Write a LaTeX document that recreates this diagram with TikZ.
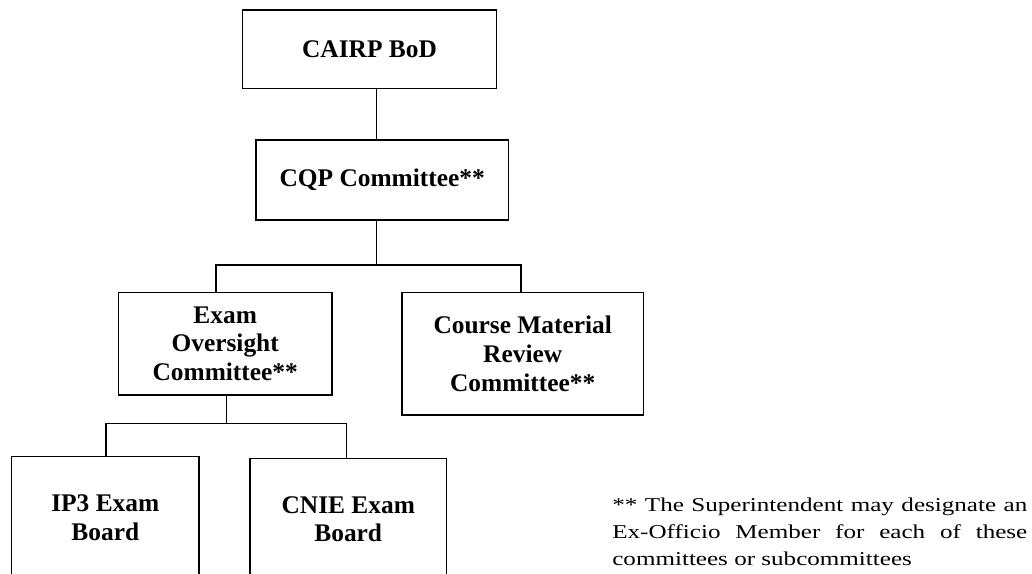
\documentclass[tikz,border=0pt]{standalone}
\usepackage{fontspec}
\setmainfont{Liberation Serif}
\newfontfamily\notefont[FakeStretch=1.28]{Liberation Serif}
\usepackage{tikz}
\tikzset{orgbox/.style={draw, line width=0.8pt, inner sep=2pt, align=center, font=\fontsize{14.45}{16.4}\selectfont\bfseries},
	notetext/.style={text width=8.3cm, align=justify, inner sep=0pt, font=\notefont\fontsize{11.15}{15.3}\selectfont}}

\begin{document}
\begin{tikzpicture}
			%%%%% START %%%%%
			
			\useasboundingbox (0, 0) rectangle (20.64, 11.46);
			\clip (0, 0) rectangle (20.64, 11.46);
			
			\node[orgbox, minimum width=5.088cm, minimum height=1.566cm] (bod) at (7.39, 10.476) {CAIRP BoD};
			\node[orgbox, minimum width=5.046cm, minimum height=1.6cm] (cqp) at (7.644, 7.86) {CQP Committee**};
			
			\node[orgbox, minimum width=4.274cm, minimum height=2.046cm] (exam) at (4.504, 4.584) {Exam\\Oversight\\Committee**};
			\node[orgbox, minimum width=4.826cm, minimum height=2.446cm] (course) at (10.454, 4.384) {Course Material\\Review\\Committee**};
			
			\node[orgbox, minimum width=3.746cm, minimum height=2.446cm] (ipe) at (2.106, 1.103) {IP3 Exam\\Board};
			\node[orgbox, minimum width=3.93cm, minimum height=2.434cm] (cnie) at (6.965, 1.077) {CNIE Exam\\Board};
			
			% bus points
			\coordinate (j1) at (7.534, 6.16);
			\coordinate (b1l) at (4.32, 6.16);
			\coordinate (b1r) at (10.42, 6.16);
			\coordinate (j2) at (4.534, 2.994);
			\coordinate (b2l) at (2.12, 2.994);
			\coordinate (b2r) at (6.934, 2.994);
			
			\draw[line width=0.8pt] (bod.south -| j1) -- (cqp.north -| j1);
			\draw[line width=0.8pt] (cqp.south -| j1) -- (j1);
			\draw[line width=0.8pt] (exam.north -| b1l) -- (b1l) -- (b1r) -- (course.north -| b1r);
			
			\draw[line width=0.8pt] (exam.south -| j2) -- (j2);
			\draw[line width=0.8pt] (ipe.north -| b2l) -- (b2l) -- (b2r) -- (cnie.north -| b2r);
			
			\node[notetext, anchor=north west] (note) at (12.24, 1.5) {** The Superintendent may designate an\linebreak Ex-Officio Member for each of these\linebreak committees or subcommittees};
			
			%%%%% END %%%%%
		\end{tikzpicture}
\end{document}
